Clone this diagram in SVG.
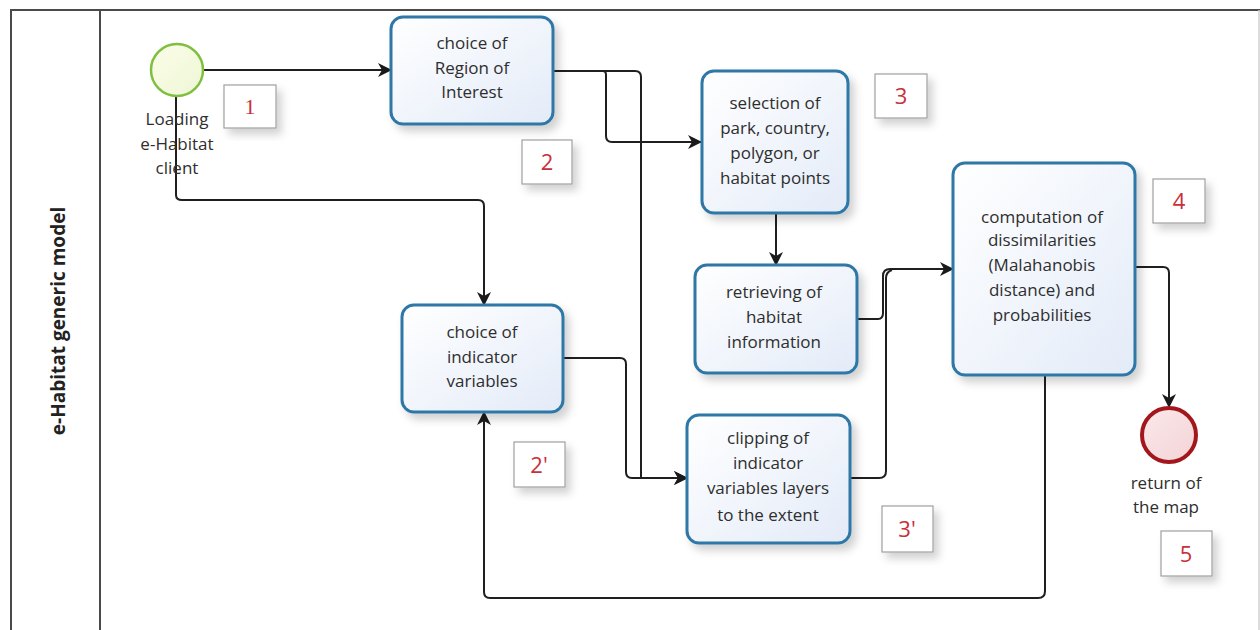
<svg xmlns="http://www.w3.org/2000/svg" width="1260" height="630" viewBox="0 0 1260 630">
<defs>
<linearGradient id="gBox" x1="0" y1="0" x2="1" y2="1">
<stop offset="0" stop-color="#ffffff"/>
<stop offset="1" stop-color="#e3ebf8"/>
</linearGradient>
<linearGradient id="gStart" x1="0" y1="0" x2="1" y2="1">
<stop offset="0" stop-color="#fbfde8"/>
<stop offset="1" stop-color="#eef6d6"/>
</linearGradient>
<linearGradient id="gEnd" x1="0" y1="0" x2="1" y2="1">
<stop offset="0" stop-color="#fbe9ea"/>
<stop offset="1" stop-color="#f3d3d6"/>
</linearGradient>
<filter id="sh" x="-20%" y="-20%" width="150%" height="150%">
<feDropShadow dx="5" dy="6" stdDeviation="4" flood-color="#000" flood-opacity="0.18"/>
</filter>
<marker id="arr" viewBox="0 0 14 14" refX="13" refY="7" markerWidth="14" markerHeight="14" markerUnits="userSpaceOnUse" orient="auto">
<path d="M0,0 L14,7 L0,14 L4,7 Z" fill="#1a1a1a"/>
</marker>
</defs>
<style>
.task{fill:url(#gBox);stroke:#2f77a6;stroke-width:3;filter:url(#sh)}
.t{font-family:"Open Sans","Noto Sans",sans-serif;font-size:17px;fill:#2e2e2e;text-anchor:middle}
.num{fill:#fff;stroke:#a0a0a0;stroke-width:1.2;filter:url(#sh)}
.nt{font-family:"Open Sans","Noto Sans",sans-serif;font-size:22px;fill:#c8303a;text-anchor:middle}
.c{fill:none;stroke:#1f1f1f;stroke-width:2;stroke-linejoin:round}
.frame{fill:none;stroke:#4a4a4a;stroke-width:2}
</style>
<rect width="1260" height="630" fill="#ffffff"/>
<g id="pool">
<line x1="10" y1="10" x2="1260" y2="10" class="frame"/>
<line x1="11" y1="10" x2="11" y2="630" class="frame"/>
<line x1="100" y1="10" x2="100" y2="630" class="frame"/>
<line x1="1259" y1="10" x2="1259" y2="630" stroke="#d0d0d0" stroke-width="1.5"/>
<text x="0" y="0" transform="translate(65,321) rotate(-90)" font-family="'Open Sans','Noto Sans',sans-serif" font-size="19" font-weight="bold" fill="#222" text-anchor="middle">e-Habitat generic model</text>
</g>
<g id="connectors">
<path class="c" d="M204,70 H391" marker-end="url(#arr)"/>
<path class="c" d="M553,71 H603 Q606,71 606,75 V136 Q606,142 612,142 H701" marker-end="url(#arr)"/>
<path class="c" d="M603,71 H635 Q641,71 641,77 V478 H687" marker-end="url(#arr)"/>
<path class="c" d="M176,97 V195 Q176,200 182,200 H478 Q484,200 484,206 V305" marker-end="url(#arr)"/>
<path class="c" d="M563,358 H620 Q626,358 626,364 V472 Q626,478 632,478 H687" marker-end="url(#arr)"/>
<path class="c" d="M776,213 V265" marker-end="url(#arr)"/>
<path class="c" d="M857,319 H878 Q883,319 883,313 V276 Q883,269 890,269 H953" marker-end="url(#arr)"/>
<path class="c" d="M850,478 H879 Q886,478 886,471 V278 Q886,272 892,270"/>
<path class="c" d="M1135,267 H1163 Q1169,267 1169,273 V407" marker-end="url(#arr)"/>
<path class="c" d="M1045,376 V591 Q1045,598 1038,598 H490 Q484,598 484,592 V412" marker-end="url(#arr)"/>
</g>
<g id="start">
<circle cx="177" cy="70" r="26" fill="url(#gStart)" stroke="#7fbf3f" stroke-width="2.5"/>
<text class="t" x="177" y="125">Loading</text>
<text class="t" x="177" y="150">e-Habitat</text>
<text class="t" x="177" y="174">client</text>
</g>
<g id="n1">
<rect class="num" x="224" y="85" width="52" height="43"/>
<text class="nt" x="250" y="114" style="font-family:'Liberation Serif',serif">1</text>
</g>
<g id="roi">
<rect class="task" x="391" y="17" width="162" height="107" rx="12"/>
<text class="t" x="472" y="49">choice of</text>
<text class="t" x="472" y="74">Region of</text>
<text class="t" x="472" y="98">Interest</text>
</g>
<g id="n2">
<rect class="num" x="522" y="140" width="50" height="44"/>
<text class="nt" x="547" y="170">2</text>
</g>
<g id="selection">
<rect class="task" x="702" y="71" width="146" height="142" rx="12"/>
<text class="t" x="775" y="109">selection of</text>
<text class="t" x="775" y="134">park, country,</text>
<text class="t" x="775" y="159">polygon, or</text>
<text class="t" x="775" y="184">habitat points</text>
</g>
<g id="n3">
<rect class="num" x="875" y="74" width="52" height="44"/>
<text class="nt" x="901" y="104">3</text>
</g>
<g id="retrieving">
<rect class="task" x="695" y="265" width="162" height="108" rx="12"/>
<text class="t" x="774" y="298">retrieving of</text>
<text class="t" x="774" y="323">habitat</text>
<text class="t" x="774" y="348">information</text>
</g>
<g id="computation">
<rect class="task" x="953" y="163" width="182" height="212" rx="12"/>
<text class="t" x="1042" y="223">computation of</text>
<text class="t" x="1042" y="246">dissimilarities</text>
<text class="t" x="1042" y="271">(Malahanobis</text>
<text class="t" x="1042" y="296">distance) and</text>
<text class="t" x="1042" y="321">probabilities</text>
</g>
<g id="n4">
<rect class="num" x="1153" y="179" width="52" height="44"/>
<text class="nt" x="1179" y="209">4</text>
</g>
<g id="indicator">
<rect class="task" x="402" y="305" width="161" height="107" rx="12"/>
<text class="t" x="482" y="338">choice of</text>
<text class="t" x="482" y="363">indicator</text>
<text class="t" x="482" y="387">variables</text>
</g>
<g id="n2p">
<rect class="num" x="514" y="442" width="51" height="45"/>
<text class="nt" x="539" y="473">2'</text>
</g>
<g id="clipping">
<rect class="task" x="687" y="415" width="163" height="128" rx="12"/>
<text class="t" x="768" y="444">clipping of</text>
<text class="t" x="768" y="469">indicator</text>
<text class="t" x="768" y="494">variables layers</text>
<text class="t" x="768" y="521">to the extent</text>
</g>
<g id="n3p">
<rect class="num" x="882" y="506" width="51" height="46"/>
<text class="nt" x="907" y="537">3'</text>
</g>
<g id="end">
<circle cx="1169" cy="435" r="27" fill="url(#gEnd)" stroke="#a3171c" stroke-width="4"/>
<text class="t" x="1166" y="489">return of</text>
<text class="t" x="1166" y="513">the map</text>
</g>
<g id="n5">
<rect class="num" x="1161" y="531" width="51" height="45"/>
<text class="nt" x="1186" y="562">5</text>
</g>
</svg>
